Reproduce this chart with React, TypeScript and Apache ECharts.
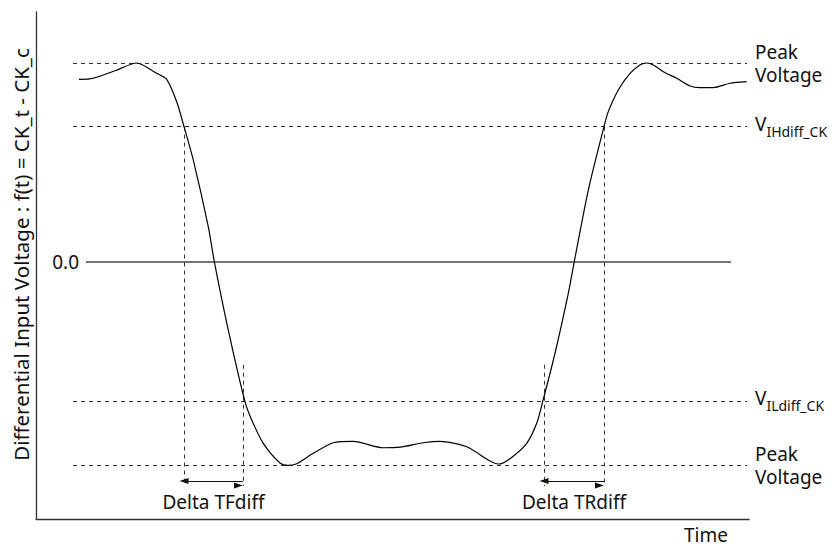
import React, { useEffect, useRef } from "react";
import * as echarts from "echarts";

// ---- data ----
const time = [43, 57, 79, 100.7, 120.7, 130.7, 140.7, 148, 157.3, 172.3, 178.3, 192.3, 209, 215.7, 227.3, 244, 252, 260, 277.3, 297.3, 317.3, 347.3, 364, 387.3, 404, 430.7, 454, 462.3, 474, 490.7, 500.7, 506.7, 519, 532.3, 538.3, 552.3, 568, 572.3, 582.3, 594, 604, 610.7, 617.3, 627.3, 640.7, 654, 664, 677.3, 694, 710.7];
const voltage = [0.918, 0.923, 0.961, 1.0, 0.948, 0.918, 0.805, 0.68, 0.511, 0.175, 0.0, -0.345, -0.706, -0.798, -0.916, -1.015, -1.027, -1.02, -0.966, -0.913, -0.906, -0.938, -0.935, -0.913, -0.906, -0.933, -1.005, -1.02, -0.993, -0.916, -0.815, -0.706, -0.462, -0.16, 0.0, 0.36, 0.68, 0.755, 0.864, 0.948, 0.99, 1.0, 0.99, 0.956, 0.923, 0.884, 0.876, 0.876, 0.898, 0.906];

const timeRange = [0, 713];
const voltageRange = [-1.297, 1.257];

const levelValues = [1.0, 0.68, -0.705, -1.025];
const levelLabels = ["Peak\nVoltage", "{v|V}{s|IHdiff_CK}", "{v|V}{s|ILdiff_CK}", "Peak\nVoltage"];
const levelSpan = [37, 711];

const zeroValue = 0;
const zeroLabel = "0.0";
const zeroSpan = [50, 695];

const edgeTimes = [148, 207, 508, 568];
const edgeTops = [0.68, -0.52, -0.52, 0.68];
const edgeBottom = -1.131;

const deltaStarts = [148, 508];
const deltaEnds = [207, 568];
const deltaLabels = ["Delta TFdiff", "Delta TRdiff"];
const deltaLevel = -1.106;

const yAxisTitle = "Differential Input Voltage : f(t) = CK_t - CK_c";
const xAxisTitle = "Time";

const FONT = "Noto Sans";
const INK = "#111";

export default function App() {
  const ref = useRef<HTMLDivElement>(null);

  useEffect(() => {
    if (!ref.current) return;
    const chart = echarts.init(ref.current, null, { renderer: "svg" });

    const curve = time.map((t, i) => [t, voltage[i]]);

    const thresholdLines = levelValues.map((v, i) => [
      {
        coord: [levelSpan[0], v],
        label: {
          show: true,
          position: "end",
          distance: 8,
          formatter: levelLabels[i],
          color: INK,
          fontFamily: FONT,
          fontSize: 19,
          lineHeight: 23,
          rich: {
            v: { fontSize: 19, fontFamily: FONT, color: INK, lineHeight: 20, padding: [0, 0, 6, 0] },
            s: { fontSize: 14, fontFamily: FONT, color: INK, lineHeight: 14, padding: [9, 0, 0, 0] },
          },
        },
      },
      { coord: [levelSpan[1], v] },
    ]);

    const edgeLines = edgeTimes.map((t, i) => [
      { coord: [t, edgeTops[i]] },
      { coord: [t, edgeBottom] },
    ]);

    const deltaLines = deltaStarts.map((s, i) => [
      {
        coord: [s, deltaLevel],
        label: {
          show: true,
          position: "insideMiddleBottom",
          distance: 11,
          formatter: deltaLabels[i],
          color: INK,
          fontFamily: FONT,
          fontSize: 19,
        },
      },
      { coord: [deltaEnds[i], deltaLevel] },
    ]);

    chart.setOption({
      animation: false,
      backgroundColor: "#fff",
      textStyle: { fontFamily: FONT },
      grid: { left: 36, right: 91, top: 12, bottom: 27 },
      xAxis: {
        type: "value",
        min: timeRange[0],
        max: timeRange[1],
        name: xAxisTitle,
        nameLocation: "end",
        nameGap: -21,
        nameTextStyle: {
          fontFamily: FONT,
          fontSize: 19,
          lineHeight: 19,
          color: INK,
          align: "right",
          verticalAlign: "top",
          padding: [6, 0, 0, 0],
        },
        axisLine: { show: true, onZero: false, lineStyle: { color: "#333", width: 1.3 } },
        axisTick: { show: false },
        axisLabel: { show: false },
        splitLine: { show: false },
      },
      yAxis: {
        type: "value",
        min: voltageRange[0],
        max: voltageRange[1],
        name: yAxisTitle,
        nameLocation: "middle",
        nameGap: 5,
        nameTextStyle: {
          fontFamily: FONT,
          fontSize: 20.5,
          color: INK,
          padding: [0, 0, 0, 22],
        },
        axisLine: { show: true, onZero: false, lineStyle: { color: "#333", width: 1.3 } },
        axisTick: { show: false },
        axisLabel: { show: false },
        splitLine: { show: false },
      },
      series: [
        {
          type: "line",
          data: [],
          silent: true,
          markLine: {
            silent: true,
            symbol: "none",
            animation: false,
            lineStyle: { color: "#333", width: 1, type: [4, 4] },
            emphasis: { disabled: true },
            data: thresholdLines,
          },
        },
        {
          type: "line",
          data: [],
          silent: true,
          markLine: {
            silent: true,
            symbol: "none",
            animation: false,
            lineStyle: { color: "#444", width: 1.5, type: "solid" },
            emphasis: { disabled: true },
            label: {
              show: true,
              position: "start",
              distance: 7,
              formatter: zeroLabel,
              color: INK,
              fontFamily: FONT,
              fontSize: 19,
            },
            data: [[{ coord: [zeroSpan[0], zeroValue] }, { coord: [zeroSpan[1], zeroValue] }]],
          },
        },
        {
          type: "line",
          data: [],
          silent: true,
          markLine: {
            silent: true,
            symbol: "none",
            animation: false,
            label: { show: false },
            lineStyle: { color: "#333", width: 1, type: [4, 4] },
            emphasis: { disabled: true },
            data: edgeLines,
          },
        },
        {
          type: "line",
          data: [],
          silent: true,
          markLine: {
            silent: true,
            symbol: ["triangle", "triangle"],
            symbolSize: [6, 9],
            symbolOffset: [0, 4.5],
            animation: false,
            lineStyle: { color: "#111", width: 1.2, type: "solid" },
            itemStyle: { color: "#111" },
            emphasis: { disabled: true },
            data: deltaLines,
          },
        },
        {
          type: "line",
          data: curve,
          symbol: "none",
          smooth: 0.25,
          silent: true,
          lineStyle: { color: "#000", width: 1.2 },
          z: 5,
        },
      ],
    });

    return () => chart.dispose();
  }, []);

  return (
    <div
      ref={ref}
      style={{ position: "fixed", left: 0, top: 0, width: 840, height: 546, background: "#fff" }}
    />
  );
}
